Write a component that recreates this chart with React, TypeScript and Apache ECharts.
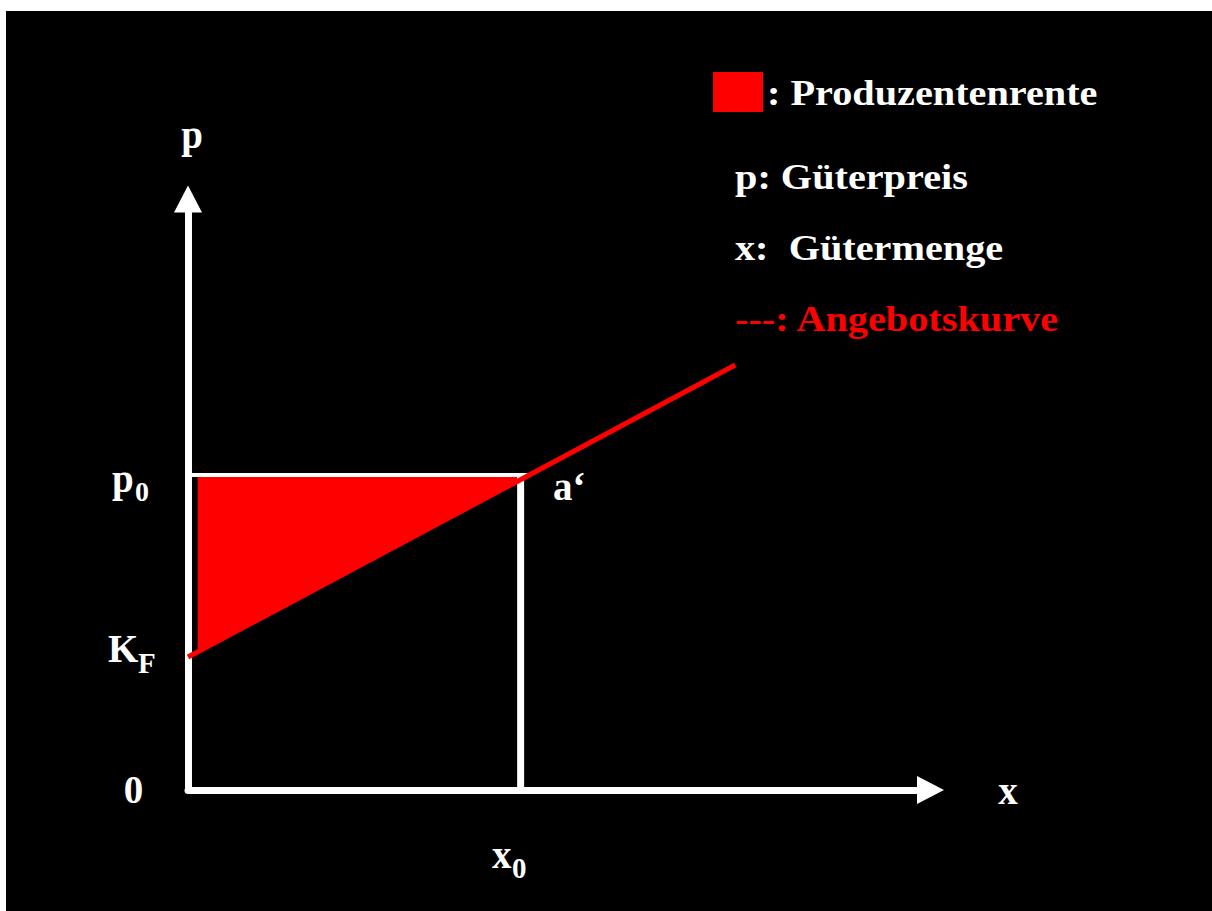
import React, { useEffect, useRef } from "react";
import * as echarts from "echarts";

// ---- data (value space of the diagram) ----
const xRange = [0, 10];
const yRange = [0, 10];
const KF = 2.25; // fixed cost level (intercept of supply curve)
const p0 = 5.33; // price level
const x0 = 4.48; // quantity
const supplyX = [0, 7.37];
const supplyY = [KF, 7.19];
const fillStart = 0.13;

const legendLabels = [": Produzentenrente", "p: Güterpreis", "x:\u00a0 Gütermenge", "---: Angebotskurve"];

const OX = 6;
const OY = 11;

const supplyAt = (x: number) =>
  supplyY[0] + ((supplyY[1] - supplyY[0]) / (supplyX[1] - supplyX[0])) * (x - supplyX[0]);

const FONT = "'Liberation Serif', 'Times New Roman', serif";

function txt(
  text: string,
  px: number,
  baseline: number,
  size: number,
  opts: { align?: string; color?: string; scaleX?: number } = {}
) {
  const align = opts.align || "left";
  return {
    type: "text",
    x: px - OX,
    y: baseline - 0.3375 * size - OY,
    scaleX: opts.scaleX || 1,
    silent: true,
    z: 100,
    style: {
      text,
      fill: opts.color || "#ffffff",
      fontFamily: FONT,
      fontWeight: "bold",
      fontSize: size,
      align,
      textAlign: align,
      verticalAlign: "middle",
      textVerticalAlign: "middle",
    },
  };
}

export default function App() {
  const ref = useRef<HTMLDivElement>(null);
  useEffect(() => {
    if (!ref.current) return;
    const chart = echarts.init(ref.current, undefined, { renderer: "svg" });
    const fillPts = [
      [fillStart, p0],
      [x0, p0],
      [x0, supplyAt(x0)],
      [fillStart, supplyAt(fillStart)],
    ];
    const axisCommon = {
      type: "value",
      axisLine: {
        show: true,
        onZero: false,
        symbol: ["none", "triangle"],
        symbolSize: [28, 27],
        lineStyle: { color: "#ffffff", width: 7 },
      },
      axisTick: { show: false },
      axisLabel: { show: false },
      splitLine: { show: false },
    };
    const LS = 35;
    const LSX = 1.15;
    chart.setOption({
      animation: false,
      backgroundColor: "#000000",
      grid: { left: 182, top: 188, right: 281.5, bottom: 121 },
      xAxis: { ...axisCommon, min: xRange[0], max: xRange[1] },
      yAxis: { ...axisCommon, min: yRange[0], max: yRange[1] },
      series: [
        {
          type: "custom",
          silent: true,
          z: 2,
          data: [[0, 0]],
          renderItem: (_params: any, api: any) => ({
            type: "polygon",
            shape: { points: fillPts.map((p) => api.coord(p)) },
            style: { fill: "#ff0000" },
          }),
        },
        {
          type: "line",
          silent: true,
          z: 3,
          symbol: "none",
          lineStyle: { color: "#ffffff", width: 4 },
          data: [
            [0, p0],
            [x0 + 0.12, p0],
          ],
        },
        {
          type: "line",
          silent: true,
          z: 3,
          symbol: "none",
          lineStyle: { color: "#ffffff", width: 7 },
          data: [
            [x0, p0 + 0.03],
            [x0, 0],
          ],
        },
        {
          type: "line",
          silent: true,
          z: 4,
          symbol: "none",
          lineStyle: { color: "#ff0000", width: 5 },
          data: supplyX.map((x, i) => [x, supplyY[i]]),
        },
      ],
      graphic: [
        {
          type: "rect",
          shape: { x: 713 - OX, y: 72 - OY, width: 50, height: 40 },
          style: { fill: "#ff0000" },
          silent: true,
        },
        txt(legendLabels[0], 767, 105, LS, { scaleX: LSX }),
        txt(legendLabels[1], 735, 189, LS, { scaleX: LSX }),
        txt(legendLabels[2], 735, 260, LS, { scaleX: LSX }),
        txt(legendLabels[3], 735, 331, LS, { scaleX: LSX, color: "#ff0000" }),
        txt("p", 192, 148, 39, { align: "center" }),
        txt("p", 112, 492, 39),
        txt("0", 135, 501, 28),
        txt("K", 108, 662, 39),
        txt("F", 138, 673, 29),
        txt("0", 133.5, 803, 39, { align: "center" }),
        txt("x", 1008, 804, 39, { align: "center" }),
        txt("x", 492, 868, 39),
        txt("0", 512, 878, 29),
        txt("a\u2018", 553, 500, 39),
      ],
    });
    return () => chart.dispose();
  }, []);
  return (
    <div
      ref={ref}
      style={{ position: "absolute", left: OX, top: OY, width: 1206, height: 900 }}
    />
  );
}
